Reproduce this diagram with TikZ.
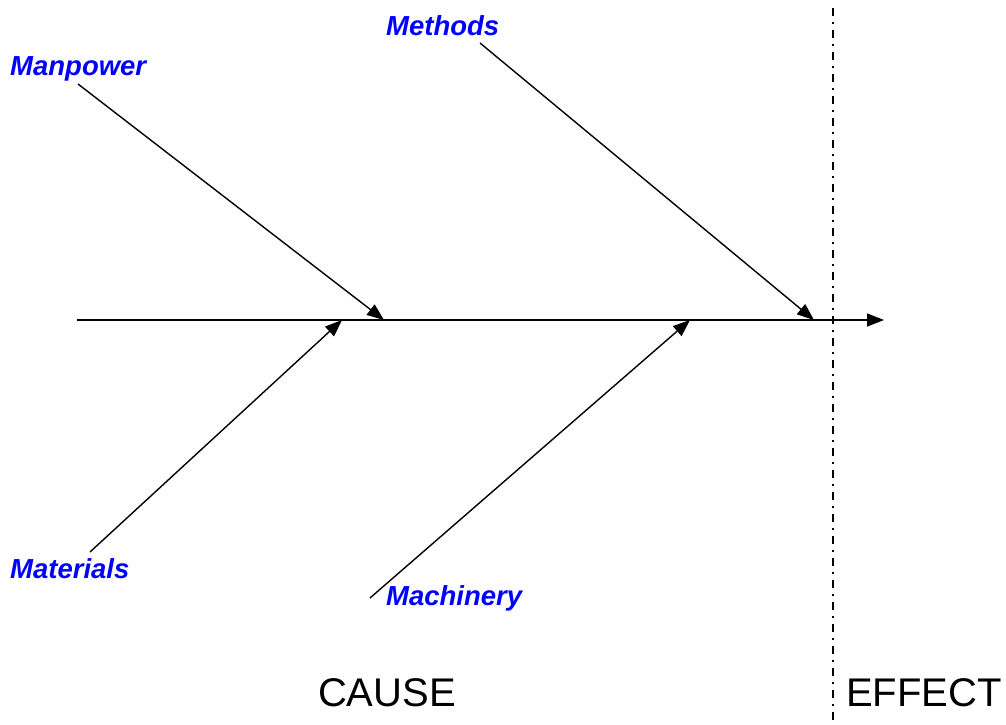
\documentclass[tikz,border=0pt]{standalone}
\usepackage{fontspec}
\setmainfont{Liberation Sans}
\usetikzlibrary{arrows.meta}
\tikzset{
  bone/.style={line width=1.4pt, -{Triangle[length=17pt,width=13pt]}},
  catlabel/.style={anchor=west, inner sep=0pt, text=blue, font=\fontsize{27.5}{32}\selectfont\bfseries\itshape},
  sidelabel/.style={inner sep=0pt, font=\fontsize{40}{46}\selectfont},
  divider/.style={line width=1.5pt, dash pattern=on 8pt off 6pt on 2pt off 6pt}
}
\begin{document}
\begin{tikzpicture}[x=1pt,y=-1pt]
\useasboundingbox (0,0) rectangle (1006,725);
% labels
\node[catlabel] (methods) at (386,26) {Methods};
\node[catlabel] (manpower) at (10,69) {Manpower};
\node[catlabel] (materials) at (10,569) {Materials};
\node[catlabel] (machinery) at (386,598) {Machinery};
\node[sidelabel] (cause) at (387,693) {CAUSE};
\node[sidelabel] (effect) at (924,693) {EFFECT};
% coordinates
\coordinate (spineS) at (77,320);
\coordinate (spineE) at (884,320);
\coordinate (mpS) at (78,84);
\coordinate (mpE) at (384,320);
\coordinate (meS) at (480,43);
\coordinate (meE) at (814,320);
\coordinate (maS) at (90,552);
\coordinate (maE) at (342,320);
\coordinate (mcS) at (370,598);
\coordinate (mcE) at (690,320);
\coordinate (divT) at (833,8);
\coordinate (divB) at (833,725);
% divider
\draw[divider] (divT) -- (divB);
% spine and bones
\draw[bone] (spineS) -- (spineE);
\draw[bone] (mpS) -- (mpE);
\draw[bone] (meS) -- (meE);
\draw[bone] (maS) -- (maE);
\draw[bone] (mcS) -- (mcE);
\end{tikzpicture}
\end{document}
